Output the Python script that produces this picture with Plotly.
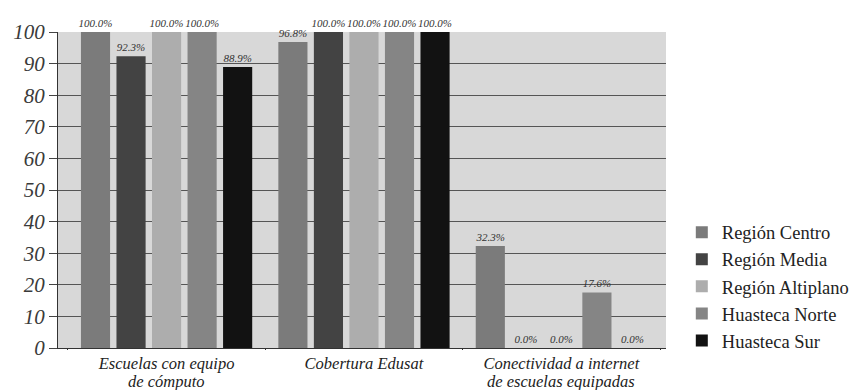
import plotly.graph_objects as go

categories = ["Escuelas con equipo<br>de cómputo", "Cobertura Edusat",
              "Conectividad a internet<br>de escuelas equipadas"]
series_names = ["Región Centro", "Región Media", "Región Altiplano",
                "Huasteca Norte", "Huasteca Sur"]
centro = [100.0, 96.8, 32.3]
media = [92.3, 100.0, 0.0]
altiplano = [100.0, 100.0, 0.0]
norte = [100.0, 100.0, 17.6]
sur = [88.9, 100.0, 0.0]
series_values = [centro, media, altiplano, norte, sur]
colors = ["#7b7b7b", "#434343", "#adadad", "#858585", "#121212"]
y_ticks = [0, 10, 20, 30, 40, 50, 60, 70, 80, 90, 100]

serif = "Liberation Serif, DejaVu Serif, serif"

first_lines = [c.split("<br>")[0] for c in categories]
second_lines = [c.split("<br>")[1] if "<br>" in c else "" for c in categories]

fig = go.Figure()
for name, vals, col in zip(series_names, series_values, colors):
    fig.add_trace(go.Bar(
        name=name, x=categories, y=vals,
        marker=dict(color=col, line=dict(width=0)),
        texttemplate="<i>%{y:.1f}%</i>", textposition="outside",
        constraintext="none", cliponaxis=False,
        textfont=dict(family=serif, size=11, color="#333333"),
    ))

for cat, line2 in zip(categories, second_lines):
    if line2:
        fig.add_annotation(x=cat, xref="x", y=-0.106, yref="paper",
                           text=f"<i>{line2}</i>", showarrow=False,
                           yanchor="middle", xanchor="center",
                           font=dict(family=serif, size=16.5, color="#222222"))

fig.update_layout(
    width=866, height=390,
    barmode="group", bargap=0.1, bargroupgap=0.18,
    paper_bgcolor="white", plot_bgcolor="#d8d8d8",
    margin=dict(l=58, r=182, t=32, b=42),
    font=dict(family=serif, color="#222222"),
    legend=dict(x=1.026, y=0.425, xanchor="left", yanchor="top",
                font=dict(family=serif, size=18.5, color="#222222"),
                bgcolor="rgba(0,0,0,0)", tracegroupgap=0,
                itemwidth=30),
    showlegend=True,
)
fig.update_yaxes(range=[0, 100], tickvals=y_ticks,
                 ticktext=[f"<i>{v}</i>" for v in y_ticks],
                 tickfont=dict(family=serif, size=21, color="#3a3a3a"),
                 showgrid=True, gridcolor="#555555", gridwidth=1,
                 ticks="outside", ticklen=8, tickcolor="#444444",
                 showline=True, linecolor="#333333", linewidth=1,
                 zeroline=False, automargin=False)
fig.update_xaxes(range=[-0.55, 2.53],
                 ticktext=[f"<i>{c}</i>" for c in first_lines],
                 tickvals=categories,
                 tickfont=dict(family=serif, size=16.5, color="#222222"),
                 tickson="boundaries", ticks="outside", ticklen=1,
                 tickcolor="#333333", automargin=False,
                 showline=True, linecolor="#333333", linewidth=1)

fig.write_html("out.html",
               config={"displayModeBar": False},
               post_script="document.body.style.margin='0';"
                           "document.body.style.overflow='hidden';")
